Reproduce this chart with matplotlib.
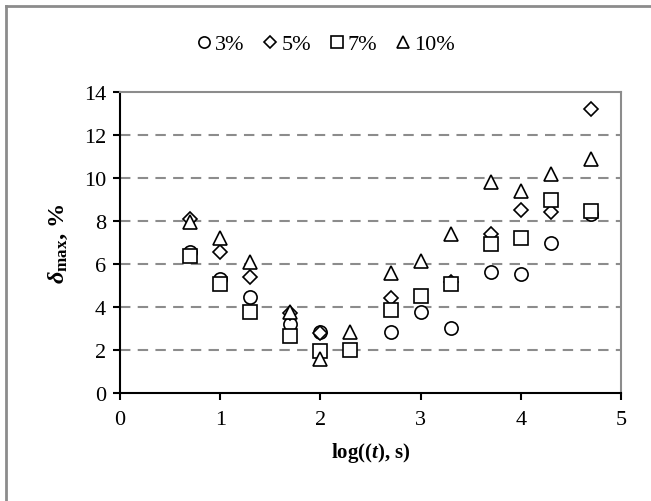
import matplotlib
matplotlib.use("Agg")
import matplotlib.pyplot as plt
from matplotlib.lines import Line2D

plt.rcParams['font.family'] = ['Liberation Serif', 'DejaVu Serif']
plt.rcParams['mathtext.fontset'] = 'custom'
plt.rcParams['mathtext.rm'] = 'Liberation Serif:bold'
plt.rcParams['mathtext.it'] = 'Liberation Serif:italic:bold'
plt.rcParams['mathtext.bf'] = 'Liberation Serif:bold'

# Data: log(t) positions and delta_max (%) per series
x_3 = [0.7, 1.0, 1.3, 1.7, 2.0, 2.7, 3.0, 3.3, 3.7, 4.0, 4.3, 4.7]
y_3 = [6.55, 5.3, 4.46, 3.2, 2.85, 2.83, 3.76, 3.02, 5.64, 5.55, 6.98, 8.33]

x_5 = [0.7, 1.0, 1.3, 1.7, 2.0, 2.7, 3.3, 3.7, 4.0, 4.3, 4.7]
y_5 = [8.1, 6.55, 5.4, 3.72, 2.8, 4.4, 5.15, 7.4, 8.53, 8.43, 13.2]

x_7 = [0.7, 1.0, 1.3, 1.7, 2.0, 2.3, 2.7, 3.0, 3.3, 3.7, 4.0, 4.3, 4.7]
y_7 = [6.37, 5.05, 3.77, 2.65, 1.95, 2.0, 3.87, 4.52, 5.07, 6.93, 7.2, 8.98, 8.48]

x_10 = [0.7, 1.0, 1.3, 1.7, 2.0, 2.3, 2.7, 3.0, 3.3, 3.7, 4.0, 4.3, 4.7]
y_10 = [7.97, 7.2, 6.1, 3.77, 1.6, 2.83, 5.58, 6.15, 7.4, 9.83, 9.41, 10.19, 10.9]

labels = ['3%', '5%', '7%', '10%']
x_ticks = [0, 1, 2, 3, 4, 5]
y_ticks = [0, 2, 4, 6, 8, 10, 12, 14]

fig = plt.figure(figsize=(6.51, 5.02), dpi=100)
ax = fig.add_axes([120/651, 1-394/502, 501/651, 301/502])

style = dict(linestyle='none', markerfacecolor='white', markeredgecolor='black',
             markeredgewidth=1.2)
ax.plot(x_3, y_3, marker='o', markersize=9.5, label=labels[0], **style)
ax.plot(x_5, y_5, marker='D', markersize=7.2, label=labels[1], **style)
ax.plot(x_7, y_7, marker='s', markersize=9.5, label=labels[2], **style)
ax.plot(x_10, y_10, marker='^', markersize=10.5, label=labels[3], **style)

ax.set_xlim(0, 5)
ax.set_ylim(0, 14)
ax.set_xticks(x_ticks)
ax.set_yticks(y_ticks)
ax.tick_params(direction='out', length=5, width=1.5, labelsize=16, colors='black', pad=7)
ax.tick_params(axis='y', pad=5)

for y in y_ticks[1:-1]:
    ax.axhline(y, color='#8c8c8c', linestyle=(0, (5, 3.5)), linewidth=1.5, zorder=0)

ax.spines['left'].set_color('black')
ax.spines['left'].set_linewidth(1.5)
ax.spines['bottom'].set_color('black')
ax.spines['bottom'].set_linewidth(1.5)
ax.spines['top'].set_color('#8c8c8c')
ax.spines['right'].set_color('#8c8c8c')
ax.spines['top'].set_linewidth(1.5)
ax.spines['right'].set_linewidth(1.5)

ax.set_xlabel(r'log(($t$), s)', fontsize=15, fontweight='bold', labelpad=8)
ax.set_ylabel(r'$\delta_{\mathrm{max}}$, %', fontsize=17.5, fontweight='bold', labelpad=10)

leg = fig.legend(loc='center', bbox_to_anchor=(0.5, 1-45/502), ncol=4, frameon=False,
                 fontsize=16, handlelength=0.7, handletextpad=0.15, columnspacing=0.8,
                 borderpad=0, markerscale=0.85)

# outer frame (left and top edges visible)
fig.add_artist(Line2D([6/651, 6/651], [0, 1-7/502], color='#8c8c8c', linewidth=2,
                      transform=fig.transFigure))
fig.add_artist(Line2D([6/651, 1], [1-7/502, 1-7/502], color='#8c8c8c', linewidth=2,
                      transform=fig.transFigure))

fig.savefig('out.png', dpi=100)
